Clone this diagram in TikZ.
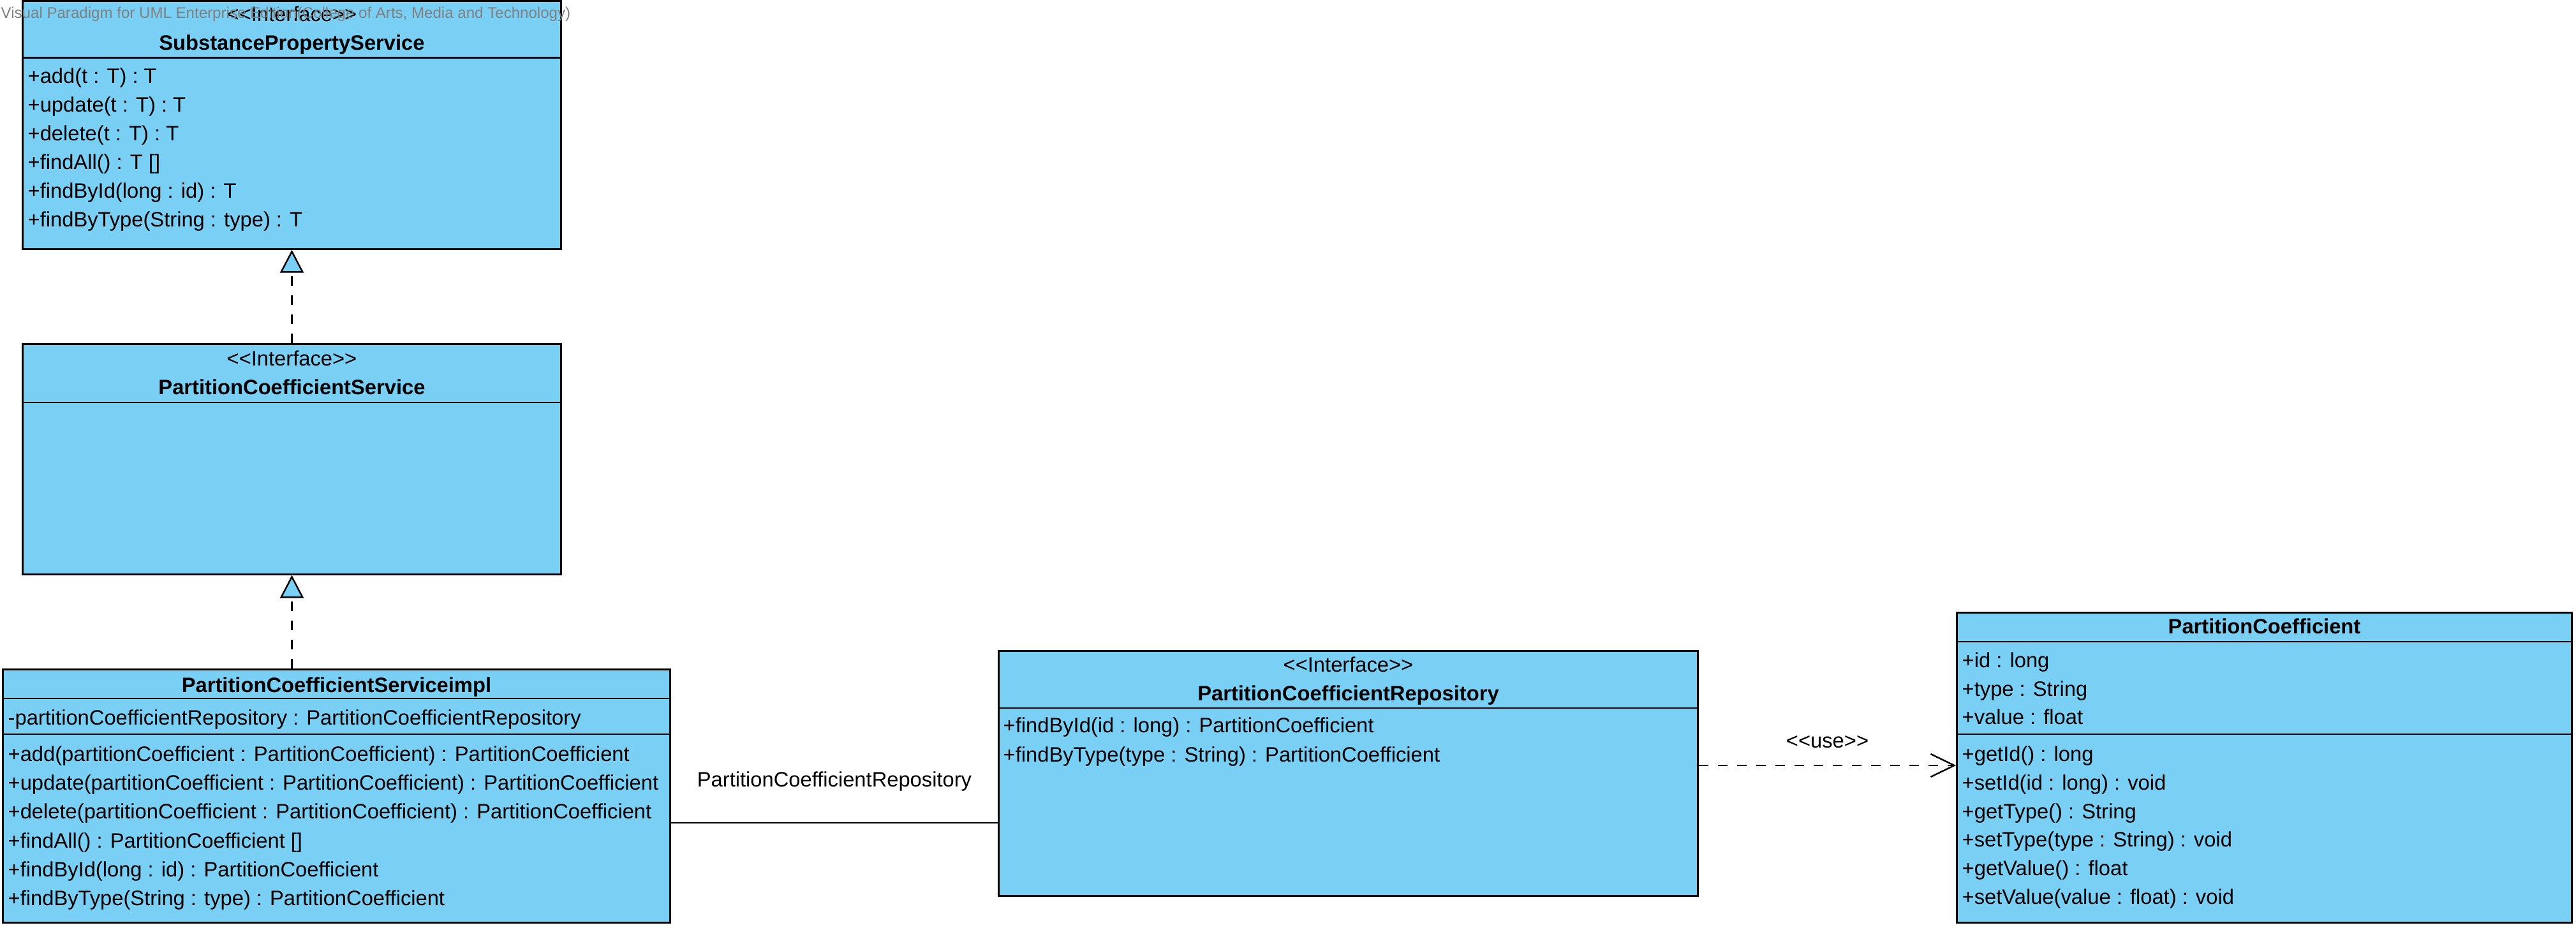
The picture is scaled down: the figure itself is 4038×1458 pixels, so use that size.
\documentclass[tikz,border=0pt]{standalone}
\usepackage{fontspec}
\setmainfont{Liberation Sans}
\usetikzlibrary{arrows.meta}
\definecolor{umlblue}{HTML}{7ACFF5}
\definecolor{markgray}{HTML}{808080}

\begin{document}
\begin{tikzpicture}[
    x=0.01cm, y=-0.01cm,
    every node/.style={font=\fontsize{9.3}{11}\selectfont},
    classbox/.style={rectangle, draw=black, fill=umlblue, line width=0.85pt, inner sep=0pt},
    member/.style={anchor=west, inner sep=0pt, text height=0.72em, text depth=0.21em},
    stereo/.style={inner sep=0pt, text height=0.72em, text depth=0.21em},
    classname/.style={stereo, font=\fontsize{9.3}{11}\selectfont\bfseries},
    divider/.style={line width=0.85pt},
    realize/.style={dash pattern=on 0.15cm off 0.15cm, line width=0.7pt,
                 -{Triangle[length=0.36cm, width=0.37cm, fill=umlblue]}},
    usedep/.style={dash pattern=on 0.15cm off 0.15cm, line width=0.7pt,
                 -{Straight Barb[length=0.37cm, width=0.36cm]}},
    assocline/.style={line width=0.7pt},
]
\useasboundingbox (0,0) rectangle (4038,1458);

% SubstancePropertyService
\node[classbox, minimum width=8.43cm, minimum height=3.88cm] (sps) at (457.5,196) {};
\draw[divider] (36,91) -- (879,91);
\node[stereo] (sps-st) at (457.5,25) {<{}<Interface>{}>};
\node[classname] (sps-nm) at (457.5,70) {SubstancePropertyService};
\node[member] (sps-m1) at (43,122) {+add(t : T) : T};
\node[member] (sps-m2) at (43,167) {+update(t : T) : T};
\node[member] (sps-m3) at (43,212) {+delete(t : T) : T};
\node[member] (sps-m4) at (43,257) {+findAll() : T []};
\node[member] (sps-m5) at (43,302) {+findById(long : id) : T};
\node[member] (sps-m6) at (43,347) {+findByType(String : type) : T};

% PartitionCoefficientService
\node[classbox, minimum width=8.43cm, minimum height=3.6cm] (pcs) at (457.5,720) {};
\draw[divider] (36,631) -- (879,631);
\node[stereo] (pcs-st) at (457.5,565) {<{}<Interface>{}>};
\node[classname] (pcs-nm) at (457.5,610) {PartitionCoefficientService};

% PartitionCoefficientServiceimpl
\node[classbox, minimum width=10.45cm, minimum height=3.96cm] (pcsi) at (527.5,1248) {};
\draw[divider] (5,1095) -- (1050,1095);
\draw[divider] (5,1151) -- (1050,1151);
\node[classname] (pcsi-nm) at (527.5,1077) {PartitionCoefficientServiceimpl};
\node[member] (pcsi-a1) at (12,1128) {-partitionCoefficientRepository : PartitionCoefficientRepository};
\node[member] (pcsi-m1) at (12,1185) {+add(partitionCoefficient : PartitionCoefficient) : PartitionCoefficient};
\node[member] (pcsi-m2) at (12,1230) {+update(partitionCoefficient : PartitionCoefficient) : PartitionCoefficient};
\node[member] (pcsi-m3) at (12,1275) {+delete(partitionCoefficient : PartitionCoefficient) : PartitionCoefficient};
\node[member] (pcsi-m4) at (12,1321) {+findAll() : PartitionCoefficient []};
\node[member] (pcsi-m5) at (12,1366) {+findById(long : id) : PartitionCoefficient};
\node[member] (pcsi-m6) at (12,1411) {+findByType(String : type) : PartitionCoefficient};

% PartitionCoefficientRepository
\node[classbox, minimum width=10.95cm, minimum height=3.83cm] (pcr) at (2113.5,1212.5) {};
\draw[divider] (1566,1110) -- (2661,1110);
\node[stereo] (pcr-st) at (2113.5,1045) {<{}<Interface>{}>};
\node[classname] (pcr-nm) at (2113.5,1090) {PartitionCoefficientRepository};
\node[member] (pcr-m1) at (1572,1140) {+findById(id : long) : PartitionCoefficient};
\node[member] (pcr-m2) at (1572,1186) {+findByType(type : String) : PartitionCoefficient};

% PartitionCoefficient
\node[classbox, minimum width=9.63cm, minimum height=4.85cm] (pc) at (3549.5,1203.5) {};
\draw[divider] (3068,1006) -- (4031,1006);
\draw[divider] (3068,1151) -- (4031,1151);
\node[classname] (pc-nm) at (3549.5,985) {PartitionCoefficient};
\node[member] (pc-a1) at (3075,1038) {+id : long};
\node[member] (pc-a2) at (3075,1083) {+type : String};
\node[member] (pc-a3) at (3075,1127) {+value : float};
\node[member] (pc-m1) at (3075,1185) {+getId() : long};
\node[member] (pc-m2) at (3075,1230) {+setId(id : long) : void};
\node[member] (pc-m3) at (3075,1275) {+getType() : String};
\node[member] (pc-m4) at (3075,1319) {+setType(type : String) : void};
\node[member] (pc-m5) at (3075,1364) {+getValue() : float};
\node[member] (pc-m6) at (3075,1409) {+setValue(value : float) : void};

% Relations
\coordinate (assocy) at (0,1290);
\coordinate (depy) at (0,1200);
\draw[realize] (pcs) -- (sps);
\draw[realize] (pcsi.north -| pcs) -- (pcs);
\draw[assocline] (pcsi.east |- assocy) -- (pcr.west |- assocy)
    node[midway, above=0.48cm, stereo] (assoc-lb) {PartitionCoefficientRepository};
\draw[usedep] (pcr.east |- depy) -- (pc.west |- depy)
    node[midway, above=0.19cm, stereo] (dep-lb) {<{}<use>{}>};

% watermark
\node[anchor=west, inner sep=0pt, text=markgray, font=\fontsize{6.85}{8}\selectfont] (mark) at (1,22)
    {Visual Paradigm for UML Enterprise Edition(College of Arts, Media and Technology)};

\end{tikzpicture}
\end{document}
